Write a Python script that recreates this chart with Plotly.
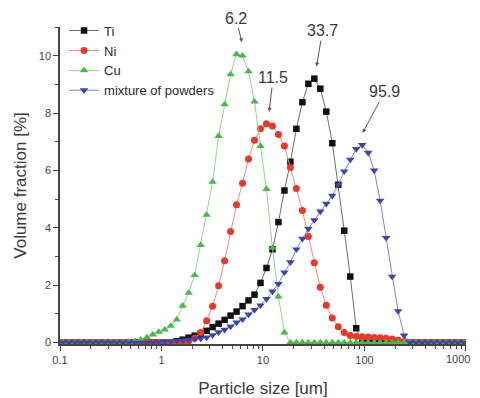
import math
import plotly.graph_objects as go

# particle size grid (um)
size_um = [0.1071, 0.1227, 0.1405, 0.1609, 0.1843, 0.2111, 0.2418, 0.2770, 0.3173,
           0.3634, 0.4162, 0.4768, 0.5461, 0.6255, 0.7165, 0.8206, 0.9399, 1.0766, 1.2331,
           1.4124, 1.6178, 1.8530, 2.1224, 2.4310, 2.7845, 3.1894, 3.6531, 4.1843, 4.7927,
           5.4896, 6.2878, 7.2020, 8.2492, 9.4486, 10.822, 12.396, 14.198, 16.263, 18.627,
           21.336, 24.438, 27.991, 32.061, 36.723, 42.062, 48.178, 55.183, 63.207, 72.397,
           82.923, 94.980, 108.79, 124.61, 142.73, 163.48, 187.25, 214.47, 245.66, 281.38,
           322.29, 369.15, 422.82, 484.30, 554.72, 635.37, 727.75, 833.57, 954.77]

ti = [0]*19 + [0.05, 0.10, 0.17, 0.24, 0.31, 0.41, 0.54, 0.66, 0.79, 0.94,
               1.08, 1.27, 1.47, 1.67, 2.08, 2.60, 3.25, 4.20, 5.30, 6.30,
               7.45, 8.38, 9.02, 9.20, 8.85, 8.05, 6.95, 5.50, 3.90, 2.30,
               0.50] + [0]*18

ni = [0]*21 + [0.05, 0.15, 0.35, 0.76, 1.27, 1.98, 2.85, 3.87, 4.80, 5.55,
               6.40, 7.05, 7.45, 7.63, 7.55, 7.25, 6.85, 6.10, 5.37, 4.60,
               3.70, 2.78, 1.93, 1.30, 0.86, 0.55, 0.35, 0.25, 0.21, 0.20,
               0.19, 0.18, 0.17, 0.15, 0.12, 0.08, 0.04] + [0]*10

cu = [0]*11 + [0.02, 0.05, 0.10, 0.18, 0.28, 0.37, 0.45, 0.58, 0.80, 1.28,
               1.73, 2.35, 3.40, 4.45, 5.60, 7.20, 8.30, 9.35, 10.05, 10.00,
               9.45, 8.40, 6.85, 5.35, 3.30, 1.60, 0.35] + [0]*30

mix = [0]*17 + [0.02, 0.04, 0.06, 0.08, 0.10, 0.12, 0.14, 0.18, 0.26, 0.36,
                0.45, 0.56, 0.70, 0.81, 0.98, 1.14, 1.30, 1.52, 1.78, 2.05,
                2.45, 2.80, 3.25, 3.62, 3.97, 4.27, 4.57, 4.84, 5.12, 5.50,
                5.97, 6.38, 6.75, 6.89, 6.62, 6.00, 4.95, 3.65, 2.30, 1.10,
                0.25] + [0]*10

series_names = ["Ti", "Ni", "Cu", "mixture of powders"]
mode_labels = ["33.7", "11.5", "6.2", "95.9"]
x_ticks = [0.1, 1, 10, 100, 1000]
x_tick_text = ["0.1", "1", "10", "100", "1000"]
y_ticks = [0, 2, 4, 6, 8, 10]

styles = [
    dict(symbol="square", size=6.5, color="#111111", line="#6e6e6e"),
    dict(symbol="circle", size=7, color="#e5392b", line="#ef8a80"),
    dict(symbol="triangle-up", size=7.5, color="#4cb84c", line="#93d493"),
    dict(symbol="triangle-down", size=7.5, color="#3a46a8", line="#7f88c6"),
]

fig = go.Figure()
for name, ys, st in zip(series_names, [ti, ni, cu, mix], styles):
    fig.add_trace(go.Scatter(
        x=size_um, y=ys, mode="lines+markers", name=name,
        marker=dict(symbol=st["symbol"], size=st["size"], color=st["color"]),
        line=dict(color=st["line"], width=1),
    ))

# label offsets (pixels) for the mode annotations
offsets = [(6, -36), (4, -34), (-6, -24), (22, -41)]
for lab, ys, (ax, ay) in zip(mode_labels, [ti, ni, cu, mix], offsets):
    fig.add_annotation(
        x=math.log10(float(lab)), y=max(ys) + 0.42, xref="x", yref="y",
        text=lab, showarrow=True, arrowhead=2, arrowsize=0.8, arrowwidth=1,
        arrowcolor="#555555", ax=ax, ay=ay, axref="pixel", ayref="pixel",
        font=dict(size=16, color="#3a3a3a", family="Liberation Sans, Arial"),
    )

# last tick label at the right edge, kept inside the page
fig.add_annotation(
    x=math.log10(x_ticks[-1]), y=0, xref="x", yref="paper",
    text=x_tick_text[-1], showarrow=False, xanchor="right", yanchor="top",
    xshift=6, yshift=-7,
    font=dict(size=11, color="#444444", family="Liberation Sans, Arial"),
)

minor_vals = [m * d for d in [0.1, 1, 10, 100] for m in range(2, 10)]

axis_common = dict(
    showline=True, linecolor="#444444", linewidth=1.5, showgrid=False, zeroline=False,
    ticks="outside", ticklen=5, tickwidth=1, tickcolor="#444444", automargin=False,
    tickfont=dict(size=11, color="#444444", family="Liberation Sans, Arial"),
)

fig.update_layout(
    width=464, height=390,
    margin=dict(l=52, r=6, t=19, b=54),
    paper_bgcolor="white", plot_bgcolor="white",
    font=dict(family="Liberation Sans, Arial", color="#3a3a3a"),
    xaxis=dict(type="log", range=[-1, 3.0002], tickvals=x_ticks,
               ticktext=x_tick_text[:-1] + [""],
               minor=dict(tickvals=minor_vals, ticks="outside", ticklen=3, tickcolor="#444444"),
               title=dict(text="Particle size [um]", font=dict(size=17, color="#3a3a3a"), standoff=20),
               **axis_common),
    yaxis=dict(range=[-0.05, 11], tickvals=y_ticks,
               minor=dict(dtick=1, ticks="outside", ticklen=3, tickcolor="#444444"),
               title=dict(text="Volume fraction [%]", font=dict(size=17, color="#3a3a3a"), standoff=8),
               **axis_common),
    legend=dict(x=0.01, y=1.036, xanchor="left", yanchor="top", bgcolor="rgba(0,0,0,0)",
                font=dict(size=13, color="#2a2a2a"), tracegroupgap=0),
    showlegend=True,
)

fig.write_html("out.html")
